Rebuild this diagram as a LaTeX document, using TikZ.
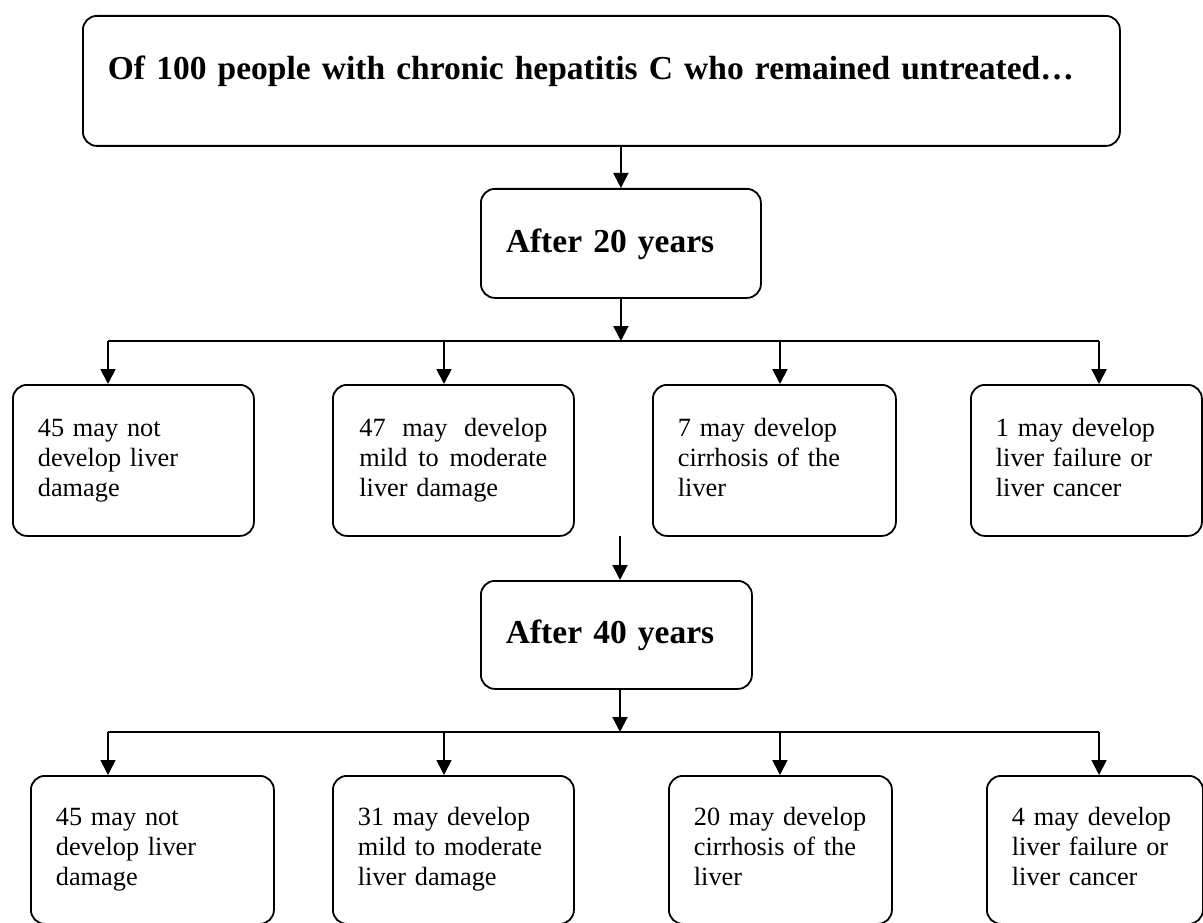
\documentclass[tikz,border=0pt]{standalone}
\usepackage{fontspec}
\setmainfont{Liberation Serif}
\usetikzlibrary{arrows.meta}

\begin{document}
\begin{tikzpicture}[x=1pt,y=-1pt,line width=1.8pt,
    >={Triangle[width=15pt,length=15pt]},
    stage/.style={draw,rounded corners=14pt,anchor=north west,align=left,
      inner xsep=25pt,inner ysep=0pt,font=\fontsize{33.5pt}{40pt}\selectfont\bfseries},
    result/.style={draw,rounded corners=14pt,anchor=north west,align=left,
      inner xsep=25pt,inner ysep=0pt,minimum height=151pt,
      font=\fontsize{26.3pt}{30pt}\selectfont,
      execute at begin node=\strut,execute at end node=\strut}]
            \useasboundingbox (0,0) rectangle (1203,923);

            \node[stage,text width=987pt,text height=64pt,text depth=66pt] (top) at (82,15)
              {\mbox{Of 100 people with chronic hepatitis C who remained untreated…}};
            \node[stage,text width=230pt,text height=64pt,text depth=45pt] (a20) at (480,188) {After 20 years};

            \node[result,text width=191pt] (r1a) at (12,384) {45 may not\\develop liver\\damage};
            \node[result,text width=188pt,minimum width=241pt] (r1b) at (332,384)
              {47\hfill may\hfill develop\\mild\hfill to\hfill moderate\\liver damage};
            \node[result,text width=193pt] (r1c) at (652,384) {7 may develop\\cirrhosis of the\\liver};
            \node[result,text width=181pt] (r1d) at (970,384) {1 may develop\\liver failure or\\liver cancer};

            \node[stage,text width=221pt,text height=63pt,text depth=45pt] (a40) at (480,580) {After 40 years};

            \node[result,text width=193pt,minimum height=148pt] (r2a) at (30,775) {45 may not\\develop liver\\damage};
            \node[result,text width=191pt,minimum height=148pt] (r2b) at (332,775) {31 may develop\\mild to moderate\\liver damage};
            \node[result,text width=173pt,minimum height=148pt] (r2c) at (668,775) {20 may develop\\cirrhosis of the\\liver};
            \node[result,text width=166pt,minimum height=148pt] (r2d) at (986,775) {4 may develop\\liver failure or\\liver cancer};

            \coordinate (f1) at (108,341);
            \coordinate (f2) at (444,341);
            \coordinate (f3) at (780,341);
            \coordinate (f4) at (1099,341);
            \coordinate (g1) at (108,732);
            \coordinate (g2) at (444,732);
            \coordinate (g3) at (780,732);
            \coordinate (g4) at (1099,732);
            \coordinate (m40) at (620,536);

            \draw[->] (top.south -| a20.north) -- (a20.north);
            \draw[->] (a20.south) -- (a20.south |- f1);
            \draw (f1) -- (f4);
            \draw[->] (f1) -- (f1 |- r1a.north);
            \draw[->] (f2) -- (f2 |- r1b.north);
            \draw[->] (f3) -- (f3 |- r1c.north);
            \draw[->] (f4) -- (f4 |- r1d.north);

            \draw[->] (m40) -- (m40 |- a40.north);
            \draw[->] (a40.south -| m40) -- (m40 |- g1);
            \draw (g1) -- (g4);
            \draw[->] (g1) -- (g1 |- r2a.north);
            \draw[->] (g2) -- (g2 |- r2b.north);
            \draw[->] (g3) -- (g3 |- r2c.north);
            \draw[->] (g4) -- (g4 |- r2d.north);
          \end{tikzpicture}
\end{document}
